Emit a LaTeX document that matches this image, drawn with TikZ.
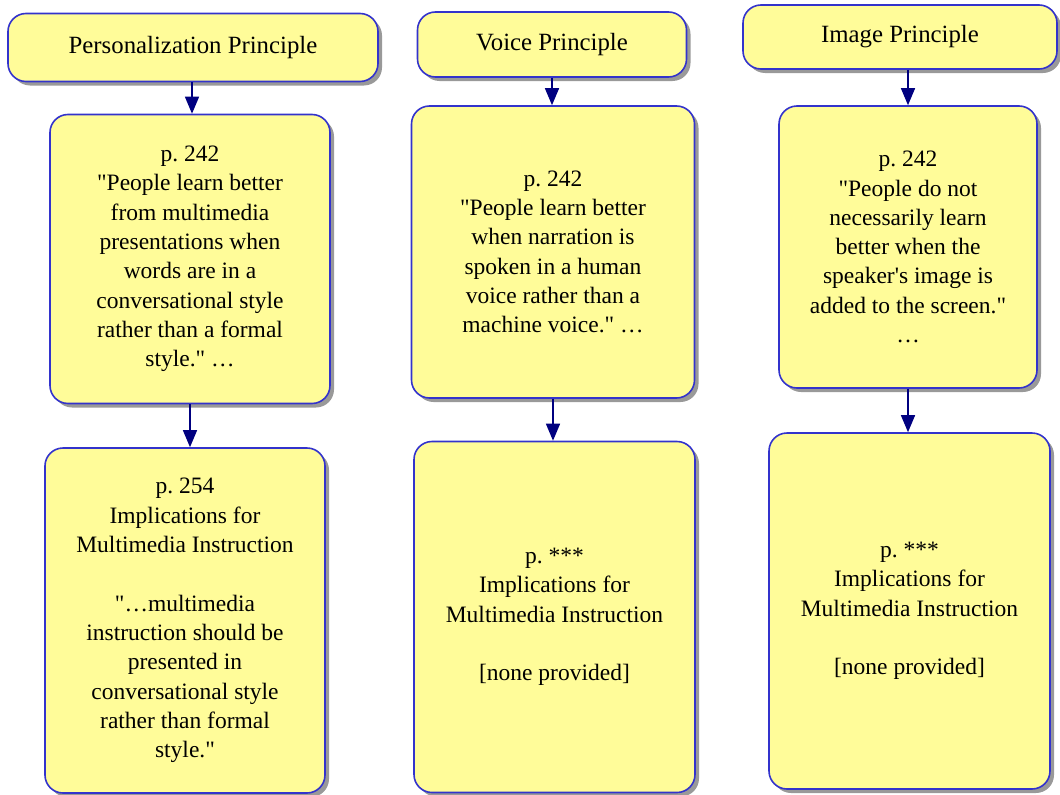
\documentclass[tikz,border=0pt]{standalone}
\usepackage{fontspec}
\setmainfont{Liberation Serif}
\usetikzlibrary{arrows.meta, shadows}

\definecolor{boxfill}{RGB}{255,252,153}
\definecolor{boxline}{RGB}{51,51,204}
\definecolor{arrowc}{RGB}{0,0,128}
\def\q{\textquotedbl}

\begin{document}
\frenchspacing
\begin{tikzpicture}[x=1pt,y=-1pt,
  box/.style={draw=boxline, line width=1.6pt, fill=boxfill, rounded corners=18pt,
    inner sep=0pt, align=center, font=\fontsize{23.5}{29.3}\selectfont,
    drop shadow={shadow xshift=4pt, shadow yshift=-4pt, fill=black!50, opacity=0.8}},
  titlebox/.style={box, font=\fontsize{24.8}{29.3}\selectfont},
  link/.style={draw=arrowc, line width=1.4pt, -{Triangle[length=17pt,width=14pt]}}]
  \useasboundingbox (0,0) rectangle (1060,795);

  % 1列目
  \node[titlebox, minimum width=370pt, minimum height=68pt] (title-1) at (193,47.5) {Personalization Principle};
  \node[box, minimum width=280pt, minimum height=289pt] (quote-1) at (190,259)
    {p. 242\\\q People learn better\\from multimedia\\presentations when\\words are in a\\conversational style\\rather than a formal\\style.\q{} \dots};
  \node[box, minimum width=280pt, minimum height=345pt] (impl-1) at (185,620.5)
    {p. 254\\Implications for\\Multimedia Instruction\\[29.3pt]\q\dots multimedia\\instruction should be\\presented in\\conversational style\\rather than formal\\style.\q};

  % 2列目
  \node[titlebox, minimum width=269pt, minimum height=65pt] (title-2) at (552,44.5) {Voice Principle};
  \node[box, minimum width=283pt, minimum height=292pt] (quote-2) at (553,252)
    {p. 242\\\q People learn better\\when narration is\\spoken in a human\\voice rather than a\\machine voice.\q{} \dots};
  \node[box, minimum width=281pt, minimum height=351pt] (impl-2) at (554.5,617)
    {p. ***\\Implications for\\Multimedia Instruction\\[29.3pt][none provided]};

  % 3列目
  \node[titlebox, minimum width=314pt, minimum height=64pt] (title-3) at (900,37) {Image Principle};
  \node[box, minimum width=258pt, minimum height=282pt] (quote-3) at (908,247)
    {p. 242\\\q People do not\\necessarily learn\\better when the\\speaker\textquotesingle s image is\\added to the screen.\q\\\dots};
  \node[box, minimum width=281pt, minimum height=356pt] (impl-3) at (909.5,611)
    {p. ***\\Implications for\\Multimedia Instruction\\[29.3pt][none provided]};

  % 矢印
  \draw[link] (title-1.south -| 192,0) -- (quote-1.north -| 192,0);
  \draw[link] (quote-1) -- (impl-1.north -| quote-1);
  \draw[link] (title-2) -- (quote-2.north -| title-2);
  \draw[link] (quote-2) -- (impl-2.north -| quote-2);
  \draw[link] (title-3.south -| quote-3) -- (quote-3);
  \draw[link] (quote-3) -- (impl-3.north -| quote-3);
\end{tikzpicture}
\end{document}
